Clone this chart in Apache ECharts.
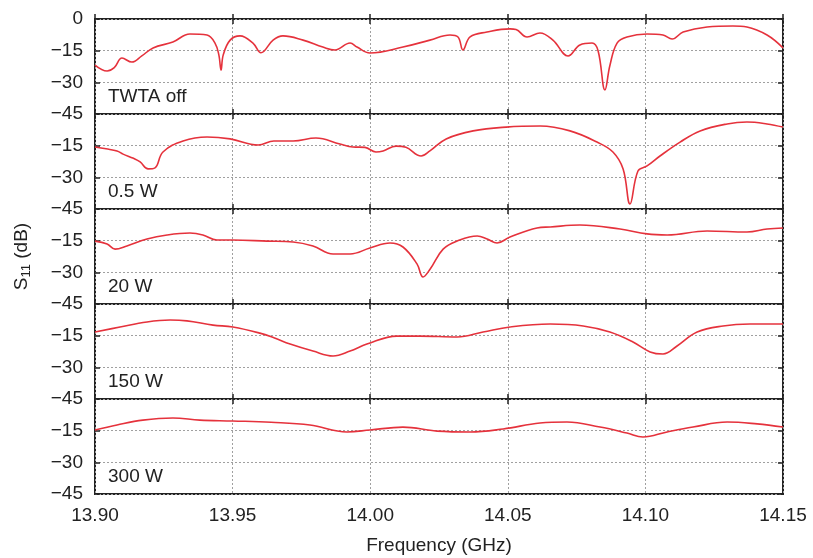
<!DOCTYPE html>
<html><head><meta charset="utf-8">
<script src="https://cdn.jsdelivr.net/npm/echarts@6/dist/echarts.min.js"></script>
<style>html,body{margin:0;padding:0;background:#fff}#c{width:813px;height:558px}</style>
</head><body><div id="c"></div>
<script>
// ---- data (frequency in GHz, S11 in dB) ----
const panelLabels = ['TWTA off', '0.5 W', '20 W', '150 W', '300 W'];
const xTickLabels = ['13.90', '13.95', '14.00', '14.05', '14.10', '14.15'];
const yTickValues = [0, -15, -30, -45];

const offFreq = [13.900,13.9044,13.9070,13.9098,13.9134,13.9170,13.9211,13.9283,13.9345,13.9407,13.9436,13.9450,13.9458,13.9466,13.9491,13.9527,13.9574,13.9603,13.9647,13.9683,13.9756,13.9828,13.9872,13.9927,13.9952,13.9999,14.0119,14.0217,14.0290,14.0319,14.0337,14.0363,14.0424,14.0508,14.0530,14.0570,14.0617,14.0664,14.0719,14.0762,14.0806,14.0828,14.0853,14.0871,14.0897,14.0933,14.1006,14.1064,14.1097,14.1137,14.1224,14.1318,14.1369,14.1442,14.1500];
const offS11  = [-21.8,-24.6,-23.0,-18.5,-20.4,-17.5,-13.7,-10.9,-7.1,-7.6,-11.4,-17.0,-24.2,-17.0,-10.0,-8.0,-11.4,-16.0,-10.0,-8.0,-10.0,-13.3,-14.7,-11.4,-13.3,-16.1,-13.3,-10.0,-7.6,-8.5,-14.7,-8.5,-6.2,-4.7,-5.0,-8.5,-6.6,-10.0,-17.5,-12.3,-11.4,-15.0,-33.6,-22.0,-11.4,-8.5,-7.1,-7.6,-9.5,-6.2,-3.8,-3.3,-3.8,-7.6,-13.7];

const w05Freq = [13.900,13.9040,13.9080,13.9102,13.9140,13.9164,13.9193,13.9218,13.9247,13.9320,13.9407,13.9491,13.9593,13.9650,13.9720,13.9803,13.9890,13.9937,13.9981,14.0021,14.0047,14.0094,14.0130,14.0185,14.0217,14.0276,14.0374,14.0494,14.0618,14.0726,14.0824,14.0882,14.0919,14.0944,14.0973,14.1006,14.1053,14.1126,14.1199,14.1297,14.1369,14.1442,14.1500];
const w05S11  = [-15.6,-16.5,-17.5,-19.0,-21.0,-22.7,-26.0,-25.5,-18.0,-12.8,-10.9,-11.8,-14.7,-12.8,-12.8,-11.4,-14.2,-15.6,-15.8,-18.0,-17.5,-15.2,-15.8,-19.9,-17.5,-11.8,-8.0,-6.2,-5.7,-8.0,-13.3,-18.0,-26.0,-42.6,-27.0,-24.6,-19.9,-13.3,-8.0,-4.7,-3.8,-4.7,-6.2];

const w20Freq = [13.900,13.9044,13.9073,13.9116,13.9189,13.9262,13.9345,13.9392,13.9443,13.9501,13.9625,13.9720,13.9792,13.9865,13.9927,13.9999,14.0072,14.0119,14.0170,14.0192,14.0218,14.0265,14.0316,14.0389,14.0425,14.0461,14.0508,14.0606,14.0654,14.0762,14.0908,14.1006,14.1079,14.1224,14.1369,14.1442,14.1500];
const w20S11  = [-15.2,-16.6,-19.0,-17.5,-14.2,-12.3,-11.4,-12.3,-14.7,-14.7,-15.2,-15.6,-17.5,-21.3,-21.3,-18.5,-16.1,-18.0,-26.0,-32.2,-28.4,-19.0,-15.2,-12.8,-14.2,-16.1,-13.3,-9.0,-8.5,-7.6,-9.5,-11.8,-12.3,-10.4,-10.9,-9.5,-9.0];

const w150Freq = [13.900,13.9091,13.9189,13.9273,13.9334,13.9429,13.9501,13.9599,13.9650,13.9709,13.9792,13.9865,13.9927,13.9988,14.0097,14.0181,14.0316,14.0410,14.0508,14.0654,14.0774,14.0871,14.0955,14.1017,14.1064,14.1115,14.1188,14.1282,14.1380,14.1500];
const w150S11  = [-13.3,-10.9,-8.5,-7.6,-8.0,-10.0,-10.9,-13.8,-16.0,-19.0,-22.3,-24.6,-22.3,-19.0,-15.2,-15.2,-15.6,-13.3,-10.9,-9.5,-10.4,-13.3,-18.0,-22.7,-23.7,-19.9,-13.3,-10.4,-9.5,-9.5];

const w300Freq = [13.900,13.9080,13.9174,13.9283,13.9381,13.9501,13.9640,13.9781,13.9916,13.9999,14.0119,14.0243,14.0363,14.0483,14.0617,14.0715,14.0835,14.0933,14.0991,14.1079,14.1173,14.1297,14.1406,14.1500];
const w300S11  = [-14.7,-12.3,-10.0,-9.0,-10.0,-10.4,-11.0,-12.3,-15.6,-14.7,-13.3,-15.2,-15.6,-14.2,-11.4,-10.9,-13.3,-16.1,-18.0,-15.6,-13.3,-10.9,-11.8,-13.3];

const panelFreqs = [offFreq, w05Freq, w20Freq, w150Freq, w300Freq];
const panelS11s  = [offS11, w05S11, w20S11, w150S11, w300S11];

// ---- layout ----
const FONT = '"Liberation Sans", Arial, Helvetica, sans-serif';
const plotLeft = 95, plotWidth = 688, panelH = 95, firstTop = 19;
const tops = [0,1,2,3,4].map(i => firstTop + i * panelH);

const grids = [], xAxes = [], yAxes = [], series = [], graphics = [];
const lineColor = '#e5323c';
const axisCol = '#222';

tops.forEach((top, i) => {
  grids.push({left: plotLeft, width: plotWidth, top: top, height: panelH, show: true,
    borderColor: axisCol, borderWidth: 2, backgroundColor: 'transparent'});
  const isLast = i === tops.length - 1;
  const xBase = {
    type: 'value', gridIndex: i, min: 13.9, max: 14.15, interval: 0.05,
    axisLine: {show: false},
    axisTick: {show: true, inside: true, length: 5, lineStyle: {color: axisCol, width: 1.5}},
  };
  xAxes.push(Object.assign({}, xBase, {
    position: 'bottom',
    axisLabel: {show: isLast, margin: 12, fontSize: 19, color: axisCol, fontFamily: FONT,
      formatter: v => { const s = v.toFixed(2); return xTickLabels.includes(s) ? s : ''; }},
    splitLine: {show: true, lineStyle: {color: '#a0a0a0', type: [2, 2], width: 1}},
    name: isLast ? 'Frequency (GHz)' : '', nameLocation: 'middle', nameGap: 42,
    nameTextStyle: {fontSize: 19, color: axisCol, fontFamily: FONT}
  }));
  xAxes.push(Object.assign({}, xBase, {position: 'top', axisLabel: {show: false}, splitLine: {show: false}}));
  const yBase = {
    type: 'value', gridIndex: i, min: -45, max: 0, interval: 15,
    axisLine: {show: false},
    axisTick: {show: true, inside: true, length: 5, lineStyle: {color: axisCol, width: 1.5}},
  };
  yAxes.push(Object.assign({}, yBase, {
    position: 'left',
    axisLabel: {show: true, margin: 12, fontSize: 19, color: axisCol, fontFamily: FONT,
      formatter: v => {
        if (!yTickValues.includes(v)) return '';
        if (v === 0) return i === 0 ? '0' : '';
        return '\u2212' + Math.abs(v);
      }},
    splitLine: {show: true, lineStyle: {color: '#a0a0a0', type: [2, 2], width: 1}},
    name: i === 2 ? '{a|S}{b|11}{a| (dB)}' : '', nameLocation: 'middle', nameRotate: 90, nameGap: 62,
    nameTextStyle: {fontSize: 19, color: axisCol, fontFamily: FONT,
      rich: {a: {fontSize: 19, fontFamily: FONT, color: axisCol},
             b: {fontSize: 13, fontFamily: FONT, color: axisCol, padding: [10, 0, 0, 0]}}}
  }));
  yAxes.push(Object.assign({}, yBase, {position: 'right', axisLabel: {show: false}, splitLine: {show: false}}));

  series.push({
    type: 'line', xAxisIndex: 2 * i, yAxisIndex: 2 * i,
    data: panelFreqs[i].map((f, k) => [f, panelS11s[i][k]]),
    showSymbol: false, smooth: 0.4,
    lineStyle: {color: lineColor, width: 1.6}, silent: true
  });

  graphics.push({type: 'text', left: 108, top: top + 68,
    style: {text: panelLabels[i], font: '19px ' + FONT, fill: axisCol}});
});

const chart = echarts.init(document.getElementById('c'), null, {renderer: 'canvas'});
chart.setOption({
  animation: false,
  backgroundColor: '#fff',
  grid: grids, xAxis: xAxes, yAxis: yAxes, series: series, graphic: graphics
});
</script></body></html>
